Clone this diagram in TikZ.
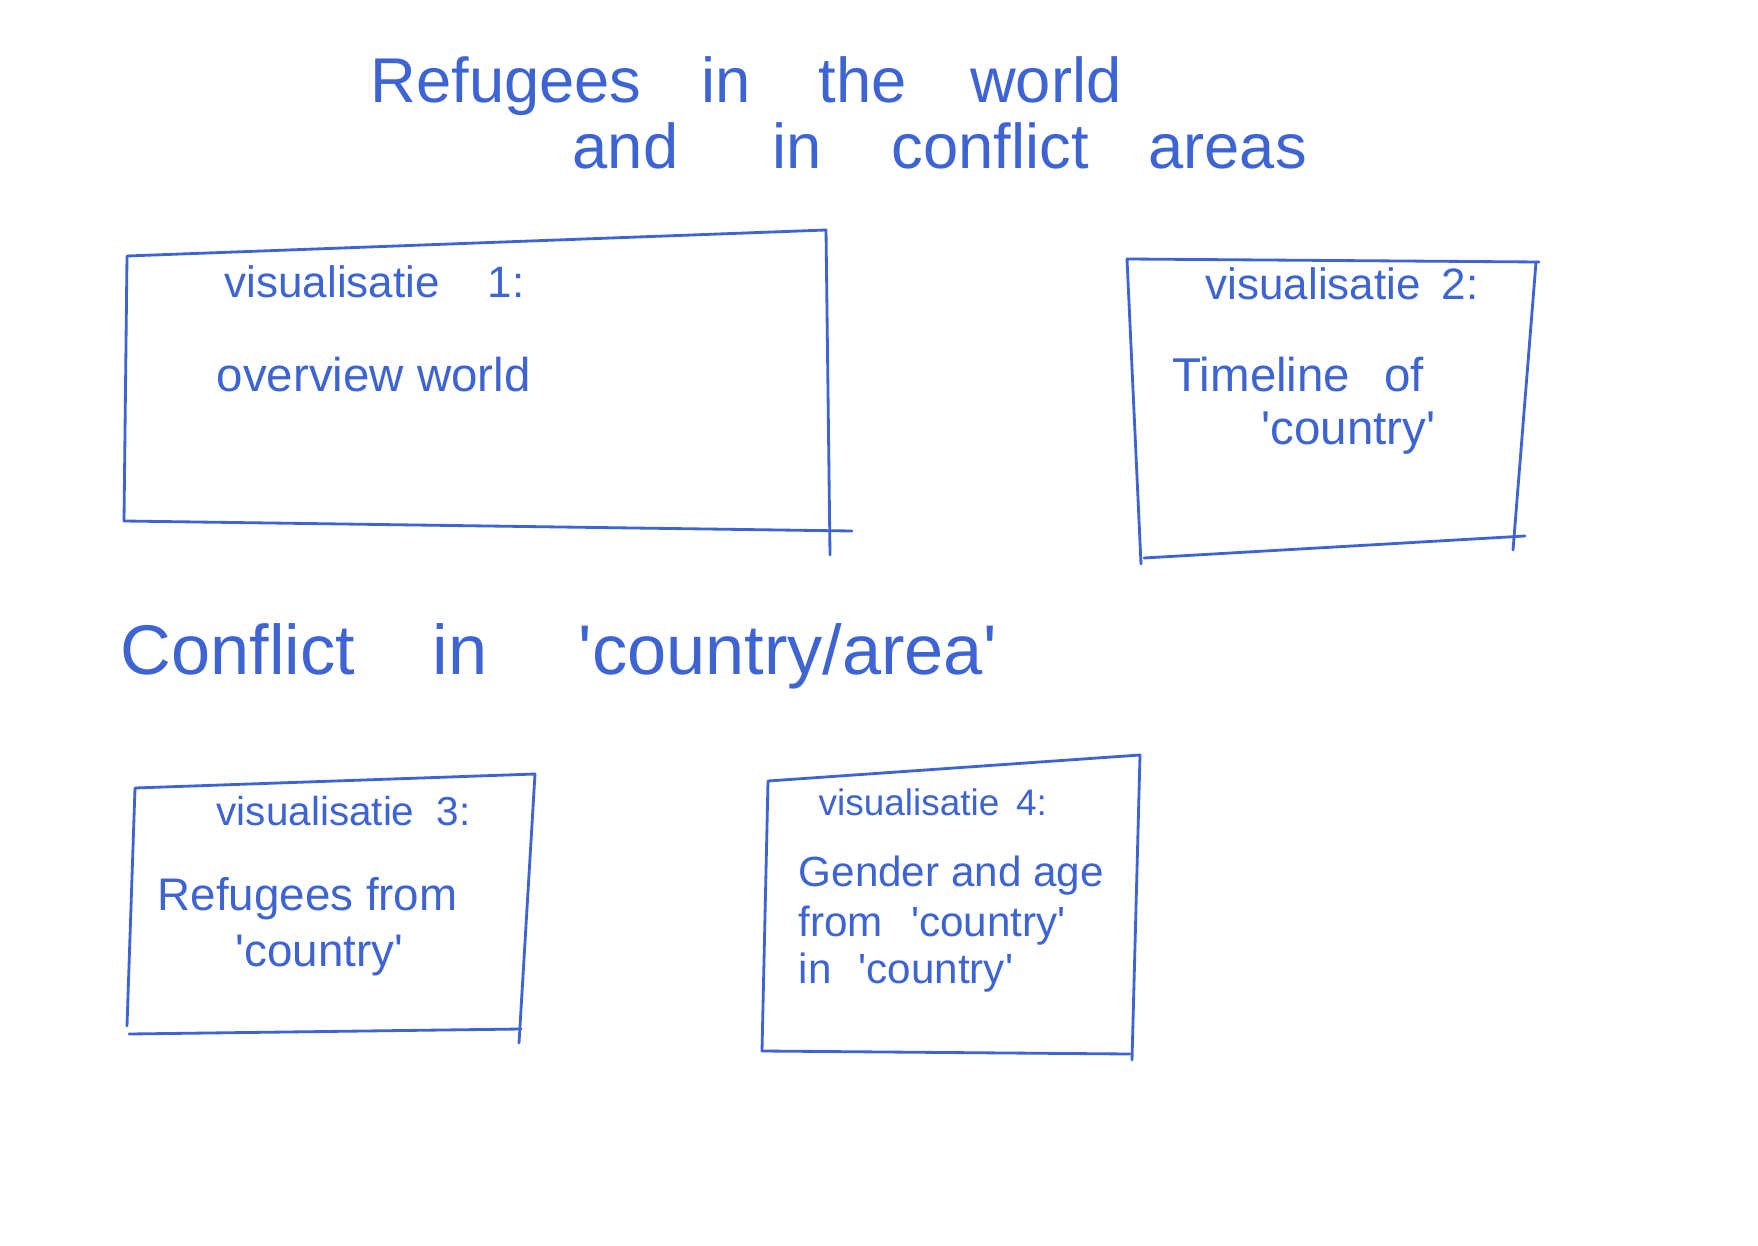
\documentclass[tikz,border=0pt]{standalone}
\usepackage{fontspec}
\setmainfont{Liberation Sans}
\definecolor{penblue}{RGB}{62,100,212}
% straight tick used as quotation mark
\newcommand\tick{\textquotesingle}
\newcommand\gap[1]{\hspace{#1pt}}
\begin{document}
\begin{tikzpicture}[x=0.01cm, y=-0.01cm,
  ink/.style={draw=penblue, line width=0.8pt, line cap=round, line join=round},
  txt/.style={text=penblue, inner sep=0pt, anchor=base west},
  titletxt/.style={txt, font=\fontsize{18}{22}\selectfont},
  headtxt/.style={txt, font=\fontsize{20}{24}\selectfont},
  bodytxt/.style={txt, font=\fontsize{13.5}{16}\selectfont}]
\useasboundingbox (0,0) rectangle (1758,1246);
\fill[white] (0,0) rectangle (1758,1246);

% page title
\node[titletxt] (title1) at (370,103)
  {Refugees\gap{17}in\gap{19.4}the\gap{18}world};
\node[titletxt] (title2) at (572,169)
  {and\gap{26.7}in\gap{20}conflict\gap{17}areas};

% box 1: world overview
\coordinate (a1) at (127,256);
\coordinate (a2) at (826,230);
\coordinate (a3) at (830,555);
\coordinate (a4) at (124,521);
\coordinate (a5) at (852,531);
\draw[ink] (a4) -- (a1) -- (a2) -- (a3);
\draw[ink] (a4) -- (a5);
\node[txt, font=\fontsize{12.5}{15}\selectfont] (lab1) at (224,298)
  {visualisatie\gap{13.7}1:};
\node[bodytxt] (body1) at (216,392) {overview world};

% box 2: timeline
\coordinate (b1) at (1127,259);
\coordinate (b2) at (1539,262);
\coordinate (b3) at (1536,262);
\coordinate (b4) at (1513,550);
\coordinate (b5) at (1141,564);
\coordinate (b6) at (1144,558);
\coordinate (b7) at (1525,536);
\draw[ink] (b5) -- (b1) -- (b2);
\draw[ink] (b3) -- (b4);
\draw[ink] (b6) -- (b7);
\node[txt, font=\fontsize{12.5}{15}\selectfont] (lab2) at (1205,300)
  {visualisatie\gap{6}2:};
\node[bodytxt] (body2a) at (1172,392) {Timeline\gap{9.6}of};
\node[bodytxt] (body2b) at (1261,445) {\tick country\tick};

% section heading
\node[headtxt] (head) at (120,674)
  {Conflict\gap{22}in\gap{26}\tick country/area\tick};

% box 3: refugees from a country
\coordinate (c1) at (135,788);
\coordinate (c2) at (535,774);
\coordinate (c3) at (519,1043);
\coordinate (c4) at (127,1026);
\coordinate (c5) at (129,1034);
\coordinate (c6) at (521,1029);
\draw[ink] (c4) -- (c1) -- (c2) -- (c3);
\draw[ink] (c5) -- (c6);
\node[txt, font=\fontsize{11.5}{14}\selectfont] (lab3) at (216,825)
  {visualisatie\gap{6.4}3:};
\node[txt, font=\fontsize{13}{16}\selectfont] (body3a) at (157,910) {Refugees from};
\node[txt, font=\fontsize{13}{16}\selectfont] (body3b) at (235,966) {\tick country\tick};

% box 4: gender and age
\coordinate (d1) at (768,781);
\coordinate (d2) at (1140,755);
\coordinate (d3) at (1132,1060);
\coordinate (d4) at (762,1051);
\coordinate (d5) at (1130,1054);
\draw[ink] (d4) -- (d1) -- (d2) -- (d3);
\draw[ink] (d4) -- (d5);
\node[txt, font=\fontsize{10.5}{13}\selectfont] (lab4) at (818,815)
  {visualisatie\gap{4.8}4:};
\node[txt, font=\fontsize{12}{14}\selectfont] (body4a) at (798,886) {Gender and age};
\node[txt, font=\fontsize{12}{14}\selectfont] (body4b) at (798,936) {from\gap{8}\tick country\tick};
\node[txt, font=\fontsize{12}{14}\selectfont] (body4c) at (798,983) {in\gap{7.7}\tick country\tick};
\end{tikzpicture}
\end{document}
